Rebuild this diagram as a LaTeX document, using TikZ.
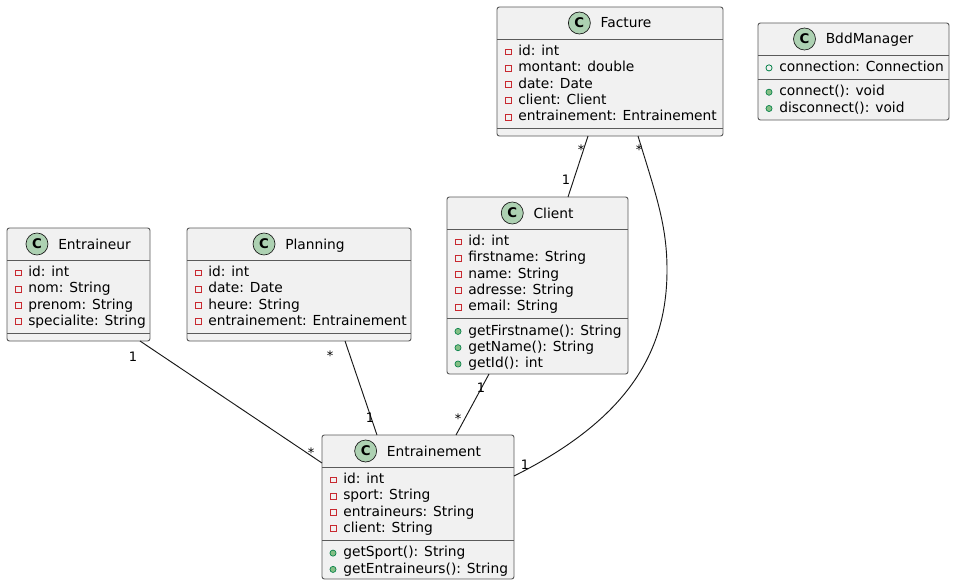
\documentclass[tikz,border=0pt]{standalone}
\usepackage{fontspec}
\setmainfont{DejaVu Sans}
\usetikzlibrary{calc}

\definecolor{boxfill}{HTML}{F1F1F1}
\definecolor{boxline}{HTML}{5A5A5A}
\definecolor{wire}{HTML}{181818}
\definecolor{iconfill}{HTML}{ADD1B2}
\definecolor{privred}{HTML}{C82930}
\definecolor{pubfill}{HTML}{84BE84}
\definecolor{publine}{HTML}{038048}

\tikzset{
  classbox/.style={draw=boxline, fill=boxfill, line width=0.7pt,
    rounded corners=1.8pt, anchor=north west, inner sep=0pt, outer sep=0pt},
  sepline/.style={draw=boxline, line width=0.7pt},
  titletext/.style={anchor=base, inner sep=0pt, font=\fontsize{10.35pt}{12pt}\selectfont},
  cicon/.style={circle, draw=wire, fill=iconfill, line width=0.5pt,
    minimum size=16.5pt, inner sep=0pt,
    font=\fontsize{10pt}{10pt}\selectfont\bfseries},
  membertext/.style={anchor=base west, inner sep=0pt,
    font=\fontsize{10.35pt}{12pt}\selectfont},
  privmark/.style={rectangle, draw=privred, line width=0.6pt,
    minimum size=4.4pt, inner sep=0pt},
  pubmeth/.style={circle, draw=publine, fill=pubfill, line width=0.5pt,
    minimum size=4.6pt, inner sep=0pt},
  pubfield/.style={circle, draw=publine, line width=0.6pt,
    minimum size=4.6pt, inner sep=0pt},
  assoc/.style={draw=wire, line width=0.7pt},
  mult/.style={inner sep=0pt, font=\fontsize{9.75pt}{10pt}\selectfont},
}

% class frame: name, x, y, width, height (px)
\newcommand\umlclass[6]{%
  \node[classbox, minimum width=#4*0.75pt, minimum height=#5*0.75pt] (#1) at (#2,#3) {};
  \node[titletext] (#1-t) at ($(#1.north)+(16,21)$) {#6};
  \node[cicon] at ($(#1-t.base west)+(-21,-5)$) {C};
  \draw[sepline] ($(#1.north west)+(0,32)$) -- ($(#1.north east)+(0,32)$);
}
% member row: box, baseline offset from top, marker style, text
\newcommand\umlmember[4]{%
  \node[#3] at ($(#1.north west)+(11,#2-3.6)$) {};
  \node[membertext] at ($(#1.north west)+(21,#2)$) {#4};
}
% compartment separator at an offset from the top
\newcommand\umlsep[2]{%
  \draw[sepline] ($(#1.north west)+(0,#2)$) -- ($(#1.north east)+(0,#2)$);
}

\begin{document}
\begin{tikzpicture}[x=0.75pt, y=-0.75pt]
\useasboundingbox (0,0) rectangle (955,585);
\fill[white] (0,0) rectangle (955,585);

% Facture
\umlclass{facture}{497}{7}{226}{129}{Facture}
\umlmember{facture}{48.5}{privmark}{id: int}
\umlmember{facture}{64.8}{privmark}{montant: double}
\umlmember{facture}{81.1}{privmark}{date: Date}
\umlmember{facture}{97.4}{privmark}{client: Client}
\umlmember{facture}{113.7}{privmark}{entrainement: Entrainement}
\umlsep{facture}{121.5}

% BddManager
\umlclass{bdd}{758}{23}{191}{97}{BddManager}
\umlmember{bdd}{48.5}{pubfield}{connection: Connection}
\umlsep{bdd}{56.3}
\umlmember{bdd}{72.8}{pubmeth}{connect(): void}
\umlmember{bdd}{89.1}{pubmeth}{disconnect(): void}

% Client
\umlclass{client}{447}{197}{181}{177}{Client}
\umlmember{client}{48.5}{privmark}{id: int}
\umlmember{client}{64.8}{privmark}{firstname: String}
\umlmember{client}{81.1}{privmark}{name: String}
\umlmember{client}{97.4}{privmark}{adresse: String}
\umlmember{client}{113.7}{privmark}{email: String}
\umlsep{client}{121.5}
\umlmember{client}{138}{pubmeth}{getFirstname(): String}
\umlmember{client}{154.3}{pubmeth}{getName(): String}
\umlmember{client}{170.6}{pubmeth}{getId(): int}

% Entraineur
\umlclass{entraineur}{7}{228}{143}{113}{Entraineur}
\umlmember{entraineur}{48.5}{privmark}{id: int}
\umlmember{entraineur}{64.8}{privmark}{nom: String}
\umlmember{entraineur}{81.1}{privmark}{prenom: String}
\umlmember{entraineur}{97.4}{privmark}{specialite: String}
\umlsep{entraineur}{105.2}

% Planning
\umlclass{planning}{187}{228}{224}{113}{Planning}
\umlmember{planning}{48.5}{privmark}{id: int}
\umlmember{planning}{64.8}{privmark}{date: Date}
\umlmember{planning}{81.1}{privmark}{heure: String}
\umlmember{planning}{97.4}{privmark}{entrainement: Entrainement}
\umlsep{planning}{105.2}

% Entrainement
\umlclass{entrainement}{322}{435}{192}{144}{Entrainement}
\umlmember{entrainement}{48.5}{privmark}{id: int}
\umlmember{entrainement}{64.8}{privmark}{sport: String}
\umlmember{entrainement}{81.1}{privmark}{entraineurs: String}
\umlmember{entrainement}{97.4}{privmark}{client: String}
\umlsep{entrainement}{105.2}
\umlmember{entrainement}{121.7}{pubmeth}{getSport(): String}
\umlmember{entrainement}{138}{pubmeth}{getEntraineurs(): String}

% associations
\draw[assoc] ($(facture.south west)+(91,0)$) -- ($(client.north west)+(121,0)$);
\draw[assoc] ($(facture.south west)+(141,0)$)
  .. controls (656,195) and (667,225) .. (667,270)
  .. controls (667,350) and (630,418) .. ($(entrainement.north east)+(0,41)$);
\draw[assoc] ($(client.south west)+(42,0)$) -- ($(entrainement.north west)+(134,0)$);
\draw[assoc] ($(planning.south west)+(158,0)$) -- ($(entrainement.north west)+(55,0)$);
\draw[assoc] ($(entraineur.south west)+(133,0)$) -- ($(entrainement.north west)+(0,28)$);

% multiplicities
\node[mult] (m1) at (581,150) {*};
\node[mult] (m2) at (566,180) {1};
\node[mult] (m3) at (639,150) {*};
\node[mult] (m4) at (525,465) {1};
\node[mult] (m5) at (481,388) {1};
\node[mult] (m6) at (458,419) {*};
\node[mult] (m7) at (330,356) {*};
\node[mult] (m8) at (370,418) {1};
\node[mult] (m9) at (133,357) {1};
\node[mult] (m10) at (311,453) {*};
\end{tikzpicture}
\end{document}
